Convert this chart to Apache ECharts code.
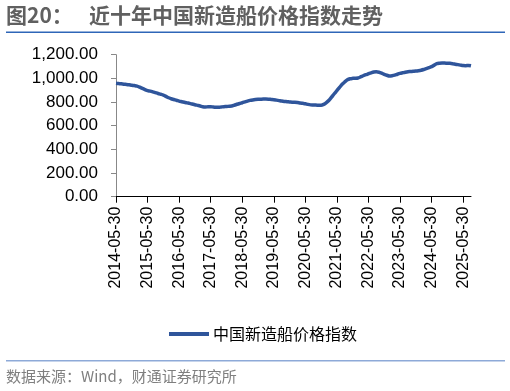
<!DOCTYPE html>
<html>
<head>
<meta charset="utf-8">
<script src="https://cdn.jsdelivr.net/npm/echarts@6/dist/echarts.min.js"></script>
<style>
html,body{margin:0;padding:0;background:#fff;}
#c{width:510px;height:391px;}
</style>
</head>
<body>
<div id="c"></div>
<script>
// Monthly observations, 2014-05 .. 2025-08
var startYear = 2014, startMonth = 5;
var seriesName = '中国新造船价格指数';
var indexValues = [
  958, 956, 954, 951, 949, 946, 942, 939, 935, 926, 915, 905,
  896, 892, 886, 879, 872, 866, 859, 848, 836, 828, 821, 815,
  808, 803, 798, 793, 789, 783, 777, 772, 767, 760, 758, 760,
  761, 758, 756, 755, 758, 761, 762, 764, 766, 773, 781, 788,
  794, 801, 808, 814, 818, 821, 823, 824, 825, 825, 824, 822,
  820, 816, 812, 808, 805, 803, 801, 799, 798, 796, 792, 789,
  786, 780, 776, 775, 774, 773, 772, 780, 795, 815, 842, 870,
  896, 923, 950, 970, 988, 997, 1000, 1001, 1003, 1012, 1022, 1031,
  1039, 1047, 1054, 1056, 1052, 1044, 1034, 1026, 1020, 1022, 1027, 1035,
  1042, 1047, 1052, 1056, 1058, 1060, 1062, 1065, 1069, 1075, 1083, 1091,
  1099, 1112, 1124, 1128, 1130, 1129, 1128, 1127, 1124, 1120, 1116, 1112,
  1108, 1107, 1109, 1106
];
var tickLabels = ['2014-05-30','2015-05-30','2016-05-30','2017-05-30','2018-05-30','2019-05-30',
  '2020-05-30','2021-05-30','2022-05-30','2023-05-30','2024-05-30','2025-05-30'];
var yTicks = [0, 200, 400, 600, 800, 1000, 1200];

var dates = [];
for (var i = 0; i < indexValues.length; i++) {
  var m = startMonth - 1 + i;
  var y = startYear + Math.floor(m / 12);
  var mo = (m % 12) + 1;
  dates.push(y + '-' + (mo < 10 ? '0' : '') + mo + '-30');
}

function fmt(v) {
  return v.toFixed(2).replace(/\B(?=(\d{3})+(?!\d))/g, ',');
}

var chart = echarts.init(document.getElementById('c'), null, {renderer: 'canvas'});
var font = '"Liberation Sans", Arial, sans-serif';
var cjk = '"Noto Sans CJK SC", sans-serif';
chart.setOption({
  animation: false,
  backgroundColor: '#ffffff',
  grid: {left: 116, right: 39, top: 54.7, bottom: 194.3, containLabel: false},
  xAxis: {
    type: 'category',
    data: dates,
    boundaryGap: false,
    axisLine: {lineStyle: {color: '#000', width: 1}},
    axisTick: {show: true, interval: 11, length: 6, lineStyle: {color: '#000'}},
    axisLabel: {
      interval: function (idx, val) { return tickLabels.indexOf(val) >= 0; },
      rotate: 90, margin: 10, color: '#000', fontSize: 16, fontFamily: font
    },
    splitLine: {show: false}
  },
  yAxis: {
    type: 'value',
    min: yTicks[0], max: yTicks[yTicks.length - 1], interval: 200,
    axisLine: {show: true, lineStyle: {color: '#888', width: 1}},
    axisTick: {show: true, length: 5, lineStyle: {color: '#888'}},
    axisLabel: {formatter: fmt, margin: 18, color: '#000', fontSize: 17, fontFamily: font},
    splitLine: {show: false}
  },
  legend: {
    data: [seriesName],
    left: 164, top: 321,
    icon: 'rect', itemWidth: 40, itemHeight: 4, itemGap: 5,
    textStyle: {fontSize: 16, color: '#000', fontFamily: cjk, padding: [0, 0, 0, -1]}
  },
  series: [{
    name: seriesName,
    type: 'line',
    data: indexValues,
    showSymbol: false,
    symbol: 'none',
    smooth: 0.3,
    lineStyle: {color: '#2f559b', width: 3.5},
    itemStyle: {color: '#2f559b'}
  }],
  graphic: [
    {type: 'text', left: 6, top: 5, style: {text: '图20：', fontSize: 21, fontWeight: 'bold', fill: '#606060', fontFamily: cjk}},
    {type: 'text', left: 89, top: 5, style: {text: '近十年中国新造船价格指数走势', fontSize: 21, fontWeight: 'bold', fill: '#606060', fontFamily: cjk}},
    {type: 'rect', shape: {x: 6, y: 31.5, width: 499, height: 1.5}, style: {fill: '#2e66b8'}},
    {type: 'rect', shape: {x: 6, y: 360, width: 499, height: 1.5}, style: {fill: '#8eaad8'}},
    {type: 'text', left: 6, top: 369, style: {text: '数据来源：Wind，财通证券研究所', fontSize: 15, fill: '#7f7f7f', fontFamily: cjk}}
  ]
});
</script>
</body>
</html>
